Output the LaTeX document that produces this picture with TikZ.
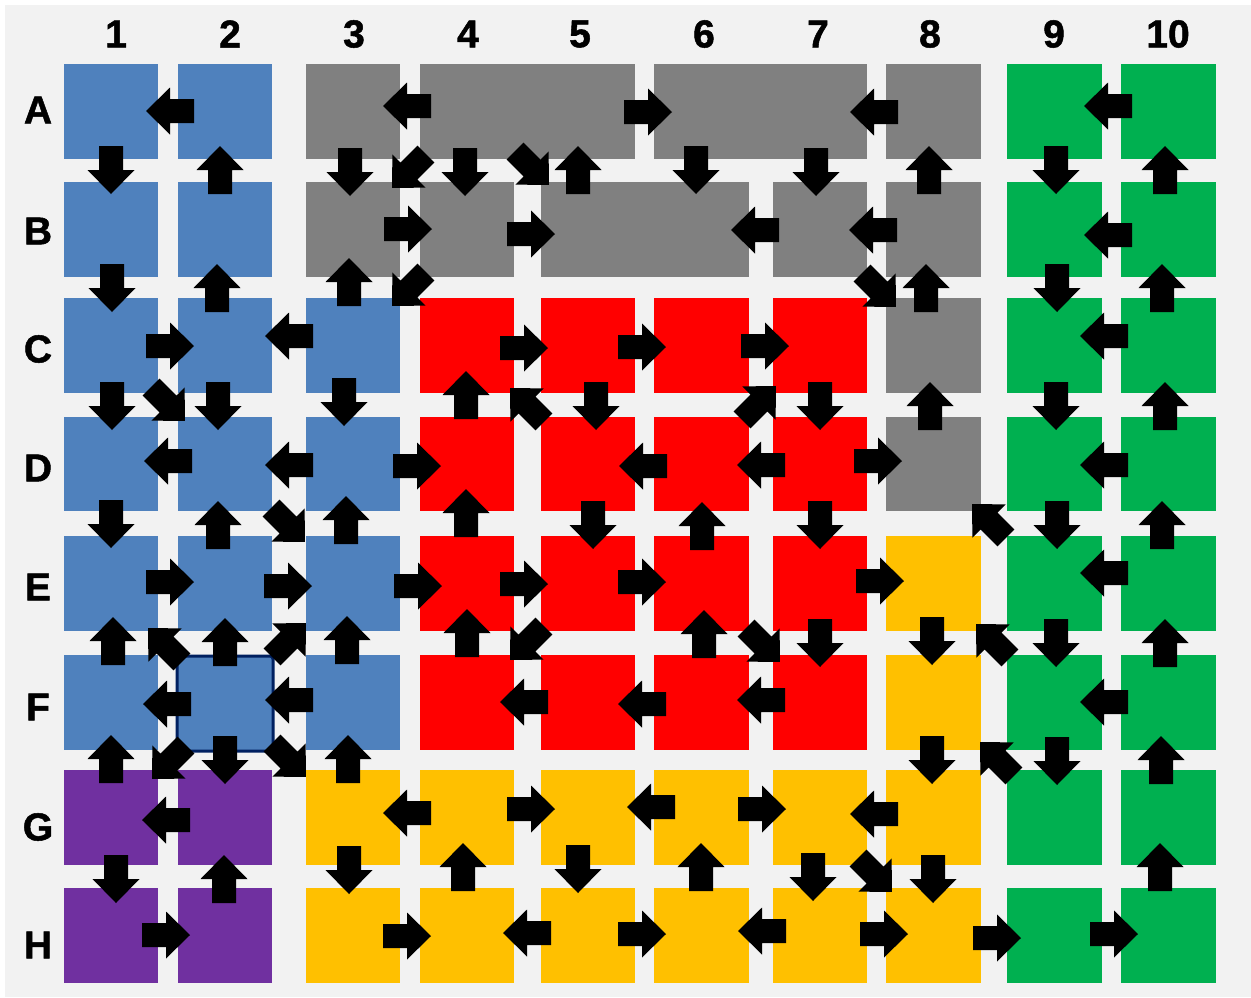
\documentclass[tikz,border=0pt]{standalone}
\usepackage{fontspec}
\setmainfont{Liberation Sans}
\newfontfamily\lblfont[FakeBold=1.3]{Liberation Sans Bold}
\usetikzlibrary{fit}
\definecolor{bg}{HTML}{F2F2F2}
\definecolor{cblue}{HTML}{4F81BD}
\definecolor{cgray}{HTML}{808080}
\definecolor{cred}{HTML}{FF0000}
\definecolor{cgreen}{HTML}{00B050}
\definecolor{cyellow}{HTML}{FFC000}
\definecolor{cpurple}{HTML}{7030A0}
\definecolor{cnavy}{HTML}{002060}
\begin{document}
\begin{tikzpicture}[x=1pt,y=-1pt,
  cellst/.style={inner sep=0pt, outer sep=0pt, draw=none},
  lbl/.style={font=\fontsize{39}{39}\lblfont, inner sep=0pt, outer sep=0pt},
  blk/.pic={\fill[black] (-24,-12) -- (0,-12) -- (0,-23.5) -- (24,0) -- (0,23.5) -- (0,12) -- (-24,12) -- cycle;}]
\useasboundingbox (0,0) rectangle (1251,997);
\fill[white] (0,0) rectangle (1251,997);
\fill[bg] (5,5) rectangle (1251,997);
% cells
\foreach \n/\c/\l/\r/\t/\b in {
  A1/cblue/64/158/64/159, A2/cblue/178/272/64/159, A3/cgray/306/400/64/159,
  A4/cgray/420/635/64/159, A6/cgray/654/867/64/159, A8/cgray/886/981/64/159,
  A9/cgreen/1007/1102/64/159, A10/cgreen/1121/1216/64/159,
  B1/cblue/64/158/182/277, B2/cblue/178/272/182/277, B3/cgray/306/400/182/277,
  B4/cgray/420/514/182/277, B5/cgray/541/749/182/277, B7/cgray/773/867/182/277,
  B8/cgray/886/981/182/277, B9/cgreen/1007/1102/182/277, B10/cgreen/1121/1216/182/277,
  C1/cblue/64/158/298/393, C2/cblue/178/272/298/393, C3/cblue/306/400/298/393,
  C4/cred/420/514/298/393, C5/cred/541/635/298/393, C6/cred/654/749/298/393,
  C7/cred/773/867/298/393, C8/cgray/886/981/298/393, C9/cgreen/1007/1102/298/393,
  C10/cgreen/1121/1216/298/393,
  D1/cblue/64/158/417/511, D2/cblue/178/272/417/511, D3/cblue/306/400/417/511,
  D4/cred/420/514/417/511, D5/cred/541/635/417/511, D6/cred/654/749/417/511,
  D7/cred/773/867/417/511, D8/cgray/886/981/417/511, D9/cgreen/1007/1102/417/511,
  D10/cgreen/1121/1216/417/511,
  E1/cblue/64/158/536/631, E2/cblue/178/272/536/631, E3/cblue/306/400/536/631,
  E4/cred/420/514/536/631, E5/cred/541/635/536/631, E6/cred/654/749/536/631,
  E7/cred/773/867/536/631, E8/cyellow/886/981/536/631, E9/cgreen/1007/1102/536/631,
  E10/cgreen/1121/1216/536/631,
  F1/cblue/64/158/655/750, F3/cblue/306/400/655/750,
  F4/cred/420/514/655/750, F5/cred/541/635/655/750, F6/cred/654/749/655/750,
  F7/cred/773/867/655/750, F8/cyellow/886/981/655/750, F9/cgreen/1007/1102/655/750,
  F10/cgreen/1121/1216/655/750,
  G1/cpurple/64/158/770/865, G2/cpurple/178/272/770/865, G3/cyellow/306/400/770/865,
  G4/cyellow/420/514/770/865, G5/cyellow/541/635/770/865, G6/cyellow/654/749/770/865,
  G7/cyellow/773/867/770/865, G8/cyellow/886/981/770/865, G9/cgreen/1007/1102/770/865,
  G10/cgreen/1121/1216/770/865,
  H1/cpurple/64/158/888/983, H2/cpurple/178/272/888/983, H3/cyellow/306/400/888/983,
  H4/cyellow/420/514/888/983, H5/cyellow/541/635/888/983, H6/cyellow/654/749/888/983,
  H7/cyellow/773/867/888/983, H8/cyellow/886/981/888/983, H9/cgreen/1007/1102/888/983,
  H10/cgreen/1121/1216/888/983}
  \node[cellst, fill=\c, fit={(\l,\t) (\r,\b)}] (\n) {};
\node[cellst, fill=cblue, draw=cnavy, line width=3pt, rounded corners=3pt,
  fit={(177,656) (273,751)}] (F2) {};
% labels
\foreach \t/\x in {1/116, 2/230, 3/354, 4/468, 5/580, 6/704, 7/818, 8/930, 9/1054, 10/1168}
  \node[lbl] (col\t) at (\x,34) {\t};
\foreach \t/\y in {A/110, B/231, C/349, D/468, E/587, F/707, G/827, H/945}
  \node[lbl] (row\t) at (38,\y) {\t};
% block arrows: x/y/angle
\foreach \x/\y/\a in {
  170/111/180, 111/170/-90, 220/170/90, 407/106/180, 350/172/-90, 409/171/-135,
  112/288/-90, 217/288/90, 349/282/90, 408/229/0, 409/289/-135, 648/112/0,
  465/172/-90, 532/168/-45, 578/170/90, 696/170/-90, 816/172/-90, 531/234/0,
  755/230/180, 874/112/180, 929/170/90, 873/230/180, 879/290/-45, 926/288/90,
  1108/106/180, 1056/170/-90, 1165/170/90, 1108/235/180, 1057/288/-90, 1162/288/90,
  1104/336/180, 170/346/0, 289/336/180, 112/406/-90, 168/404/-45, 218/406/-90,
  344/402/-90, 168/461/180, 289/465/180, 417/466/0, 111/524/-90, 218/525/90,
  288/525/-45, 346/520/90, 170/582/0, 288/586/0, 418/586/0, 113/641/90,
  165/645/135, 225/642/90, 289/640/45, 347/640/90, 167/704/180, 289/700/180,
  111/759/90, 169/762/-135, 225/760/-90, 289/760/-45, 348/759/90, 166/820/180,
  116/879/-90, 224/879/90, 166/935/0, 407/813/180, 349/870/-90, 407/936/0,
  524/348/0, 642/347/0, 765/346/0, 466/395/90, 527/405/135, 596/406/-90,
  759/403/45, 820/406/-90, 643/466/180, 761/465/180, 466/513/90, 593/525/-90,
  702/526/90, 820/525/-90, 524/584/0, 642/582/0, 467/633/90, 527/643/-135,
  704/634/90, 763/645/-45, 820/643/-90, 878/461/0, 930/406/90, 1056/406/-90,
  1165/406/90, 1104/465/180, 989/521/135, 1057/525/-90, 1162/525/90, 880/581/0,
  1104/573/180, 932/641/-90, 993/641/135, 1056/643/-90, 1165/643/90, 1104/702/180,
  932/760/-90, 997/759/135, 1057/761/-90, 1161/760/90, 874/814/180, 813/877/-90,
  875/875/-45, 933/879/-90, 1160/867/90, 884/934/0, 997/938/0, 1114/934/0,
  524/702/180, 642/704/180, 761/700/180, 531/809/0, 651/807/180, 762/809/0,
  463/867/90, 578/869/-90, 701/867/90, 527/933/180, 642/934/0, 762/931/180}
  \pic[rotate=\a] at (\x,\y) {blk};
\end{tikzpicture}
\end{document}
